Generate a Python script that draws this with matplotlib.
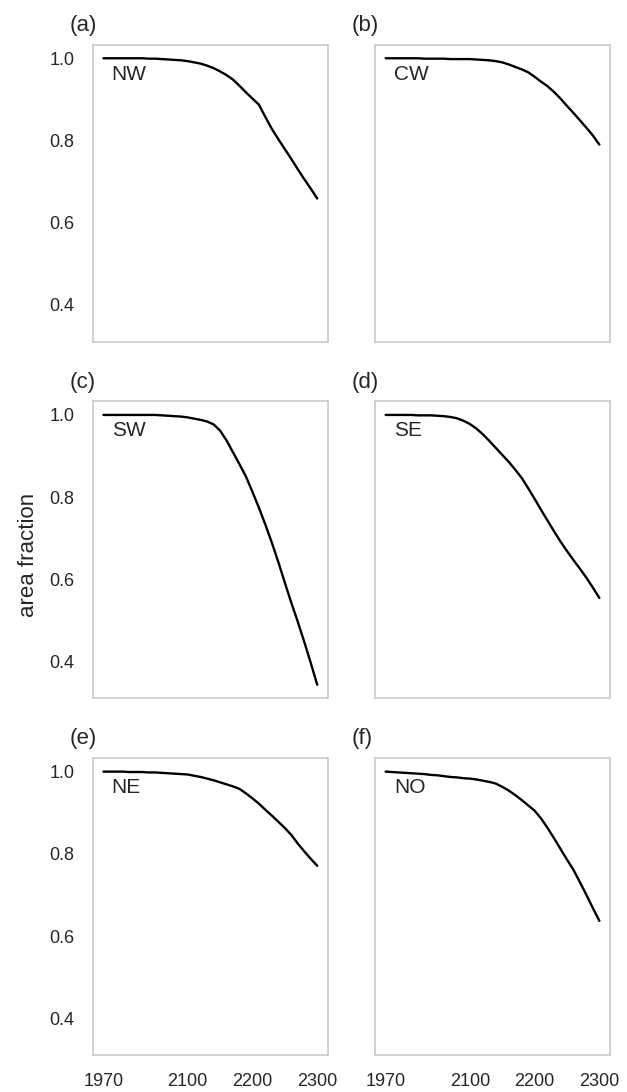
import numpy as np
import matplotlib
matplotlib.use("Agg")
import matplotlib.pyplot as plt
import seaborn as sns

# decadal model years shared by every region
years = np.arange(1970, 2301, 10)

# remaining area fraction per region
nw = [1.0, 1.0, 1.0, 1.0, 1.0, 1.0, 1.0, 0.999, 0.999, 0.998, 0.997, 0.996,
      0.995, 0.993, 0.990, 0.987, 0.982, 0.976, 0.968, 0.959, 0.948, 0.933,
      0.917, 0.902, 0.887, 0.857, 0.828, 0.803, 0.779, 0.755, 0.730, 0.706,
      0.683, 0.659]
cw = [1.0, 1.0, 1.0, 1.0, 1.0, 1.0, 0.999, 0.999, 0.999, 0.999, 0.998, 0.998,
      0.998, 0.998, 0.997, 0.996, 0.995, 0.993, 0.990, 0.985, 0.979, 0.973,
      0.966, 0.955, 0.943, 0.932, 0.918, 0.902, 0.884, 0.867, 0.849, 0.831,
      0.812, 0.790]
sw = [1.0, 1.0, 1.0, 1.0, 1.0, 1.0, 1.0, 1.0, 1.0, 0.999, 0.998, 0.997,
      0.996, 0.994, 0.991, 0.988, 0.984, 0.977, 0.962, 0.938, 0.909, 0.880,
      0.850, 0.813, 0.774, 0.733, 0.689, 0.642, 0.592, 0.543, 0.497, 0.448,
      0.397, 0.344]
se = [1.0, 1.0, 1.0, 1.0, 1.0, 0.999, 0.999, 0.999, 0.998, 0.997, 0.995, 0.992,
      0.986, 0.978, 0.967, 0.953, 0.937, 0.920, 0.903, 0.886, 0.867, 0.847,
      0.822, 0.796, 0.769, 0.743, 0.717, 0.692, 0.669, 0.647, 0.626, 0.604,
      0.580, 0.555]
ne = [1.0, 1.0, 1.0, 1.0, 0.999, 0.999, 0.999, 0.998, 0.998, 0.997, 0.996, 0.995,
      0.994, 0.993, 0.990, 0.987, 0.983, 0.979, 0.974, 0.969, 0.964, 0.958,
      0.947, 0.935, 0.922, 0.907, 0.893, 0.878, 0.863, 0.846, 0.825, 0.806,
      0.788, 0.771]
no = [1.0, 0.999, 0.998, 0.997, 0.996, 0.995, 0.994, 0.992, 0.991, 0.989, 0.987,
      0.986, 0.984, 0.983, 0.981, 0.978, 0.975, 0.971, 0.963, 0.954, 0.943,
      0.931, 0.918, 0.905, 0.886, 0.863, 0.838, 0.812, 0.786, 0.761, 0.731,
      0.700, 0.668, 0.637]

regions = ["NW", "CW", "SW", "SE", "NE", "NO"]
series = [nw, cw, sw, se, ne, no]
panels = ["(a)", "(b)", "(c)", "(d)", "(e)", "(f)"]

xticks = [1970, 2100, 2200, 2300]
yticks = [0.4, 0.6, 0.8, 1.0]

sns.set_style("whitegrid")
plt.rcParams["font.family"] = ["Liberation Sans", "DejaVu Sans"]
TEXT = "#262626"

fig, axes = plt.subplots(3, 2, figsize=(6.27, 10.92), dpi=100,
                         sharex=True, sharey=True)
fig.subplots_adjust(left=0.148, right=0.973, top=0.959, bottom=0.034,
                    wspace=0.2, hspace=0.202)

for ax, name, vals, tag in zip(axes.flat, regions, series, panels):
    ax.plot(years, vals, color="black", lw=1.7)
    ax.grid(False)
    for sp in ax.spines.values():
        sp.set_color("#cccccc")
        sp.set_linewidth(1.25)
    ax.text(0.08, 0.882, name, transform=ax.transAxes, fontsize=15,
            color=TEXT, ha="left", va="baseline")
    ax.text(-0.1, 1.03, tag, transform=ax.transAxes, fontsize=16,
            color=TEXT, ha="left", va="bottom")
    ax.tick_params(length=0, pad=13, labelsize=13, labelcolor=TEXT)

axes[0, 0].set_xticks(xticks)
axes[0, 0].set_yticks(yticks)
axes[0, 0].set_yticklabels(["0.4", "0.6", "0.8", "1.0"])

fig.text(0.0447, 0.492, "area fraction", rotation=90, fontsize=16,
         color=TEXT, ha="center", va="center")

fig.savefig("out.png", dpi=100)
